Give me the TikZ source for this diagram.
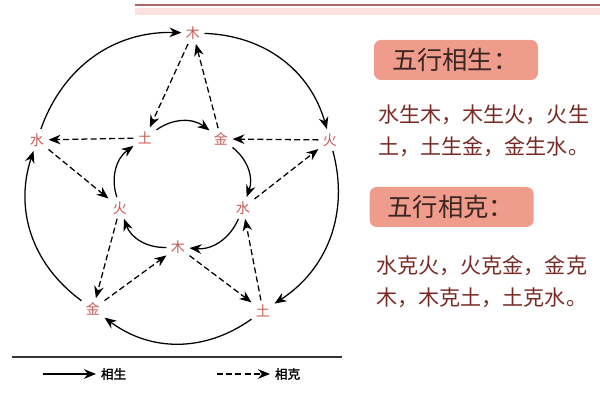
\documentclass[tikz,border=0pt]{standalone}
\usepackage{fontspec}
\setmainfont{Noto Sans CJK SC}
\newfontfamily\cjkgras[FakeBold=1.5]{Noto Sans CJK SC}
\usetikzlibrary{arrows.meta}

\definecolor{wxred}{HTML}{C95A55}
\definecolor{boxfill}{HTML}{EF9C8C}
\definecolor{bodytxt}{HTML}{7A2A25}
\definecolor{boxtxt}{HTML}{3A2622}

\begin{document}
\begin{tikzpicture}
        % Styles
        \tikzstyle{wx} = [text=wxred,font=\fontsize{10}{10}\selectfont,inner sep=3pt]
        \tikzstyle{sheng} = [line width=0.9pt,->,>={Stealth[length=3mm,width=2.4mm]}]
        \tikzstyle{ke} = [sheng,dash pattern=on 1.5mm off 0.8mm]
        \tikzstyle{titre} = [fill=boxfill,rounded corners=5pt,text=boxtxt,
            font=\fontsize{18}{18}\selectfont,minimum height=1cm,
            text width=3.2cm,inner xsep=0.45cm,align=left]
        \tikzstyle{texte} = [text=bodytxt,font=\fontsize{15}{23}\selectfont,
            anchor=west,align=left,inner sep=0pt]
        \tikzstyle{legende} = [font=\cjkgras\fontsize{9}{9}\selectfont,anchor=west]

        \useasboundingbox (0,0) rectangle (15,10);

        % Bande rouge en haut
        \draw[red!12,line width=5pt] (3.375,9.72) -- (15,9.72);
        \draw[red!50!black!60,line width=1.2pt] (3.375,9.88) -- (15,9.88);

        % Les cinq elements, cercle exterieur
        \foreach \nm/\x/\y/\t in {muO/4.825/9.175/木, huoO/8.25/6.5/火,
            tuO/6.575/2.225/土, jinO/2.325/2.275/金, shuiO/0.925/6.5/水}{
        \node[wx] (\nm) at (\x,\y) {\t};}
        % Les cinq elements, cercle interieur
        \foreach \nm/\x/\y/\t in {tuI/3.625/6.55/土, jinI/5.525/6.525/金,
            shuiI/6.075/4.8/水, muI/4.45/3.825/木, huoI/3.0/4.8/火}{
        \node[wx] (\nm) at (\x,\y) {\t};}

        % Fleches du cycle de generation
        \foreach \a/\b in {shuiO/muO, muO/huoO, huoO/tuO, tuO/jinO, jinO/shuiO,
            tuI/jinI, jinI/shuiI, shuiI/muI, muI/huoI, huoI/tuI}{
        \draw[sheng] (\a) to[bend left=36] (\b);}

        % Fleches du cycle de domination
        \foreach \a/\b in {muO/tuI, tuI/shuiO, shuiO/huoI, huoI/jinO, jinO/muI,
            muI/tuO, tuO/shuiI, shuiI/huoO, huoO/jinI, jinI/muO}{
        \draw[ke] (\a) -- (\b);}

        % Textes a droite
        \node[titre] (titreSheng) at (11.4,8.5) {五行相生：};
        \node[texte] (texteSheng) at (9.45,6.725) {水生木，木生火，火生\\土，土生金，金生水。};
        \node[titre] (titreKe) at (11.29,4.825) {五行相克：};
        \node[texte] (texteKe) at (9.4,2.95) {水克火，火克金，金克\\木，木克土，土克水。};

        % Legende
        \draw[black!80,thick] (0.3,1.075) -- (8.55,1.075);
        \coordinate (legA) at (1.075,0.65);
        \coordinate (legB) at (5.425,0.65);
        \node[legende] (legSheng) at (2.4,0.65) {相生};
        \node[legende] (legKe) at (6.75,0.65) {相克};
        \draw[sheng] (legA) -- (legSheng.west);
        \draw[ke] (legB) -- (legKe.west);

    \end{tikzpicture}
\end{document}
